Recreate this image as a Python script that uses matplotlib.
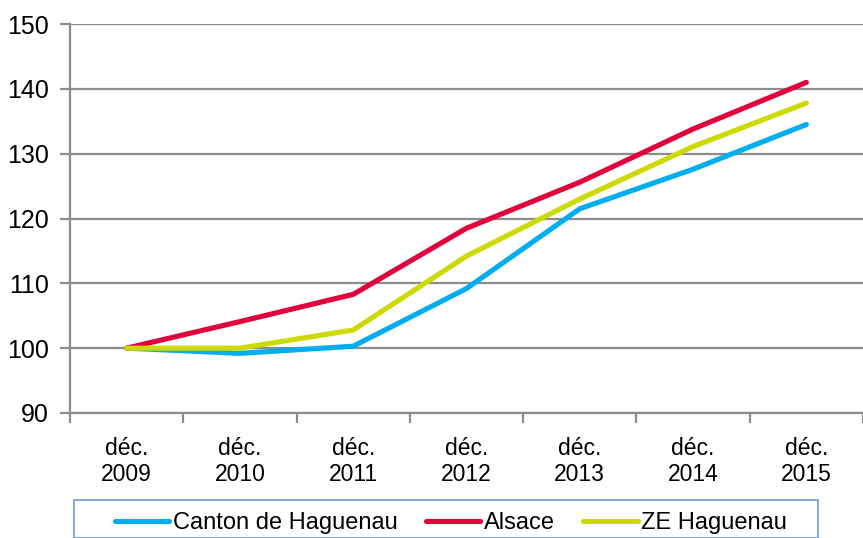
import matplotlib
matplotlib.use('Agg')
import matplotlib.pyplot as plt
from matplotlib.lines import Line2D
from matplotlib.patches import Rectangle

# Data (index base 100 = déc. 2009)
years = ['2009', '2010', '2011', '2012', '2013', '2014', '2015']
canton = [100.0, 99.2, 100.3, 109.2, 121.5, 127.6, 134.5]
alsace = [100.0, 104.1, 108.3, 118.5, 125.6, 133.8, 141.0]
ze = [100.0, 100.0, 102.8, 114.2, 123.0, 131.1, 137.8]

series_names = ['Canton de Haguenau', 'Alsace', 'ZE Haguenau']
series_colors = ['#00AEEF', '#E1003C', '#CCDA00']

plt.rcParams['font.family'] = ['Liberation Sans', 'DejaVu Sans']

W, H = 863, 538
fig = plt.figure(figsize=(W / 100, H / 100), dpi=100)
ax = fig.add_axes([70 / W, 1 - 413 / H, (W - 70) / W, (413 - 24) / H])

x = list(range(len(years)))
for vals, name, col in zip([canton, alsace, ze], series_names, series_colors):
    ax.plot(x, vals, color=col, lw=3.7, solid_capstyle='round',
            solid_joinstyle='round', label=name, zorder=3)

ax.set_ylim(90, 150)
ax.set_yticks(range(90, 151, 10))
ax.set_xlim(-0.5, (W - 127) / 114)
ax.yaxis.grid(True, color='#8c8c8c', lw=1.6)
ax.set_axisbelow(True)

# category labels in the middle, tick marks on the boundaries
ax.set_xticks([i - 0.5 for i in range(len(years) + 1)])
ax.set_xticklabels([])
ax.set_xticks(x, minor=True)
ax.set_xticklabels(['déc.\n' + y for y in years], minor=True)
ax.tick_params(axis='x', which='minor', length=0, pad=17, labelsize=16.5)
ax.tick_params(axis='x', which='major', length=7, width=1.6, color='#8c8c8c')
ax.tick_params(axis='y', length=7, width=1.6, color='#8c8c8c', labelsize=18, pad=8)
for lab in ax.get_xticklabels(minor=True):
    lab.set_linespacing(1.2)

for side in ['top', 'right']:
    ax.spines[side].set_visible(False)
for side in ['left', 'bottom']:
    ax.spines[side].set_color('#8c8c8c')
    ax.spines[side].set_linewidth(1.6)

# legend box, cut off at the bottom of the picture
box = Rectangle((74 / W, 0), (818 - 74) / W, 1 - 500 / H, transform=fig.transFigure,
                facecolor='white', edgecolor='#6f9bd2', lw=1.2)
fig.patches.append(box)
handles = [Line2D([], [], color=c, lw=3.7, solid_capstyle='round') for c in series_colors]
leg = fig.legend(handles, series_names, loc='center', ncol=3,
                 bbox_to_anchor=(451 / W, 1 - 523 / H), frameon=False,
                 fontsize=17, handlelength=2.3, handletextpad=0.15,
                 columnspacing=1.2, borderpad=0, borderaxespad=0)

fig.savefig('out.png', dpi=100)
